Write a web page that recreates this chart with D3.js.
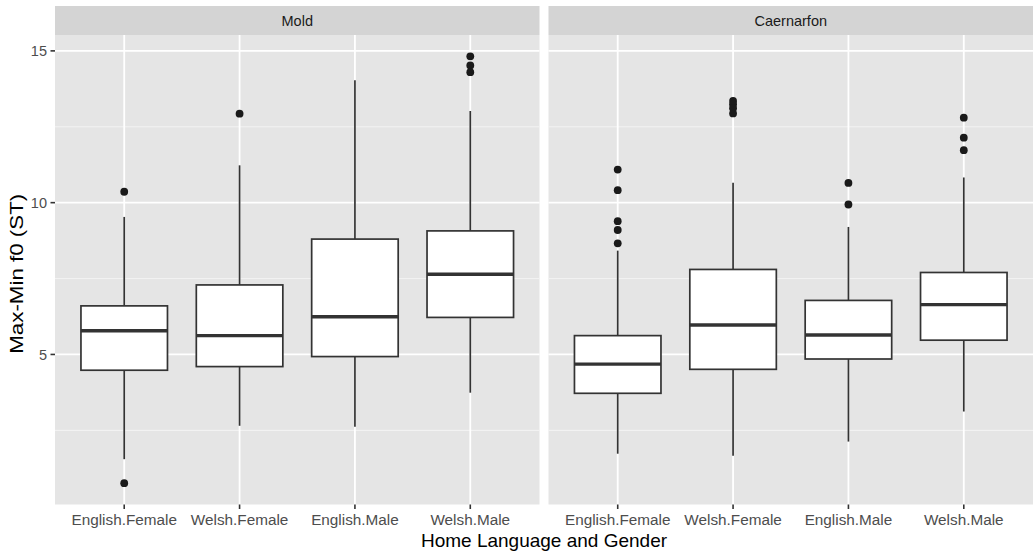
<!DOCTYPE html>
<html>
<head>
<meta charset="utf-8">
<script src="https://cdn.jsdelivr.net/npm/d3@7"></script>
<style>
  html, body { margin: 0; padding: 0; background: #ffffff; }
  svg { display: block; font-family: "Liberation Sans", Arial, Helvetica, sans-serif; }
</style>
</head>
<body>
<svg id="chart" width="1033" height="554"></svg>
<script>
// Facets and x categories
const panels = ["Mold", "Caernarfon"];
const groups = ["English.Female", "Welsh.Female", "English.Male", "Welsh.Male"];
const yTicks = [5, 10, 15];
const yMinor = [2.5, 7.5, 12.5];

// Box statistics per group (Max-Min f0 in semitones)
const moldLower   = [1.55, 2.65, 2.62, 3.74];
const moldQ1      = [4.48, 4.60, 4.93, 6.22];
const moldMedian  = [5.78, 5.62, 6.24, 7.64];
const moldQ3      = [6.60, 7.29, 8.80, 9.07];
const moldUpper   = [9.53, 11.23, 14.03, 13.02];
const moldOutliers = [[10.36, 0.76], [12.93], [], [14.82, 14.52, 14.30]];

const caerLower   = [1.73, 1.66, 2.13, 3.12];
const caerQ1      = [3.72, 4.51, 4.85, 5.47];
const caerMedian  = [4.68, 5.97, 5.64, 6.64];
const caerQ3      = [5.62, 7.80, 6.78, 7.70];
const caerUpper   = [8.42, 10.66, 9.20, 10.83];
const caerOutliers = [[11.09, 10.41, 9.39, 9.10, 8.66], [13.35, 13.24, 13.11, 12.94], [10.65, 9.94], [12.80, 12.14, 11.73]];

const panelStats = [
  { lower: moldLower, q1: moldQ1, median: moldMedian, q3: moldQ3, upper: moldUpper, outliers: moldOutliers },
  { lower: caerLower, q1: caerQ1, median: caerMedian, q3: caerQ3, upper: caerUpper, outliers: caerOutliers }
];

const svg = d3.select("#chart");
svg.append("rect").attr("width", 1033).attr("height", 554).attr("fill", "#ffffff");

// Layout
const panelLeft = [55, 548.5];
const panelWidth = 484.5;
const stripTop = 6, panelTop = 35, panelBottom = 504.5;

// Shared y range from all values, expanded by 5% on each side
const allVals = [];
panelStats.forEach(p => {
  allVals.push(...p.lower, ...p.upper);
  p.outliers.forEach(o => allVals.push(...o));
});
const yMin = d3.min(allVals), yMax = d3.max(allVals);
const pad = (yMax - yMin) * 0.05;
const y = d3.scaleLinear().domain([yMin - pad, yMax + pad]).range([panelBottom, panelTop]);

const boxStroke = "#333333";

panels.forEach((name, pi) => {
  const x0 = panelLeft[pi], x1 = x0 + panelWidth;
  const x = d3.scalePoint().domain(groups).range([x0, x1]).padding(0.6);
  const bw = x.step() * 0.75;
  const stats = panelStats[pi];
  const g = svg.append("g");

  // Strip
  g.append("rect").attr("x", x0).attr("y", stripTop).attr("width", panelWidth)
    .attr("height", panelTop - stripTop).attr("fill", "#D4D4D4");
  g.append("text").attr("x", (x0 + x1) / 2).attr("y", (stripTop + panelTop) / 2)
    .attr("dy", "0.35em").attr("text-anchor", "middle")
    .attr("font-size", 14.5).attr("fill", "#1A1A1A").text(name);

  // Panel background
  g.append("rect").attr("x", x0).attr("y", panelTop).attr("width", panelWidth)
    .attr("height", panelBottom - panelTop).attr("fill", "#E5E5E5");

  // Grid
  g.selectAll(".minor").data(yMinor).join("line")
    .attr("x1", x0).attr("x2", x1).attr("y1", d => y(d)).attr("y2", d => y(d))
    .attr("stroke", "#F5F5F5").attr("stroke-width", 0.9);
  g.selectAll(".major").data(yTicks).join("line")
    .attr("x1", x0).attr("x2", x1).attr("y1", d => y(d)).attr("y2", d => y(d))
    .attr("stroke", "#ffffff").attr("stroke-width", 1.8);
  g.selectAll(".vmajor").data(groups).join("line")
    .attr("x1", d => x(d)).attr("x2", d => x(d)).attr("y1", panelTop).attr("y2", panelBottom)
    .attr("stroke", "#ffffff").attr("stroke-width", 1.8);

  // Boxes
  groups.forEach((grp, i) => {
    const cx = x(grp);
    const bg = g.append("g");
    bg.append("line").attr("x1", cx).attr("x2", cx)
      .attr("y1", y(stats.upper[i])).attr("y2", y(stats.q3[i]))
      .attr("stroke", boxStroke).attr("stroke-width", 1.7);
    bg.append("line").attr("x1", cx).attr("x2", cx)
      .attr("y1", y(stats.q1[i])).attr("y2", y(stats.lower[i]))
      .attr("stroke", boxStroke).attr("stroke-width", 1.7);
    bg.append("rect").attr("x", cx - bw / 2).attr("y", y(stats.q3[i]))
      .attr("width", bw).attr("height", y(stats.q1[i]) - y(stats.q3[i]))
      .attr("fill", "#ffffff").attr("stroke", boxStroke).attr("stroke-width", 1.7);
    bg.append("line").attr("x1", cx - bw / 2).attr("x2", cx + bw / 2)
      .attr("y1", y(stats.median[i])).attr("y2", y(stats.median[i]))
      .attr("stroke", boxStroke).attr("stroke-width", 3.4);
    bg.selectAll("circle").data(stats.outliers[i]).join("circle")
      .attr("cx", cx).attr("cy", d => y(d)).attr("r", 3.9).attr("fill", "#1A1A1A");
  });

  // X axis ticks and labels
  g.selectAll(".xtick").data(groups).join("line")
    .attr("x1", d => x(d)).attr("x2", d => x(d))
    .attr("y1", panelBottom).attr("y2", panelBottom + 4.5)
    .attr("stroke", "#333333").attr("stroke-width", 1.6);
  g.selectAll(".xlab").data(groups).join("text")
    .attr("x", d => x(d)).attr("y", 524.5)
    .attr("text-anchor", "middle").attr("font-size", 15.3).attr("fill", "#4D4D4D")
    .text(d => d);

  // Y axis on the first panel only
  if (pi === 0) {
    g.selectAll(".ytick").data(yTicks).join("line")
      .attr("x1", x0 - 4.5).attr("x2", x0).attr("y1", d => y(d)).attr("y2", d => y(d))
      .attr("stroke", "#333333").attr("stroke-width", 1.6);
    g.selectAll(".ylab").data(yTicks).join("text")
      .attr("x", x0 - 8).attr("y", d => y(d)).attr("dy", "0.35em")
      .attr("text-anchor", "end").attr("font-size", 14.5).attr("fill", "#4D4D4D")
      .text(d => d);
  }
});

// Axis titles
svg.append("text").attr("x", (panelLeft[0] + panelLeft[1] + panelWidth) / 2).attr("y", 546.5)
  .attr("text-anchor", "middle").attr("font-size", 19).attr("fill", "#000000")
  .text("Home Language and Gender");
svg.append("text")
  .attr("transform", `translate(23,${(panelTop + panelBottom) / 2 + 4}) rotate(-90)`)
  .attr("text-anchor", "middle").attr("font-size", 19).attr("fill", "#000000")
  .attr("textLength", 160).attr("lengthAdjust", "spacingAndGlyphs")
  .text("Max-Min f0 (ST)");
</script>
</body>
</html>
